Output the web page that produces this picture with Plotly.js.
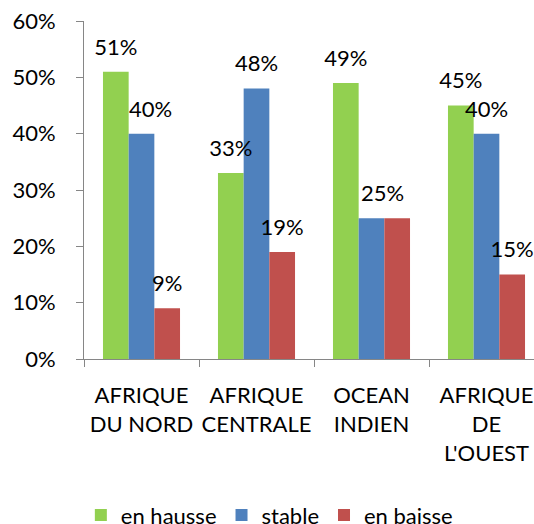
<!DOCTYPE html>
<html>
<head>
<meta charset="utf-8">
<script src="https://cdn.plot.ly/plotly-3.0.1.min.js"></script>
<style>
html,body{margin:0;padding:0;overflow:hidden;background:#fff;}
#chart{width:534px;height:524px;}
</style>
</head>
<body>
<div id="chart"></div>
<script>
// Data
var categories = ["AFRIQUE<br>DU NORD", "AFRIQUE<br>CENTRALE", "OCEAN<br>INDIEN", "AFRIQUE<br>DE<br>L'OUEST"];
var seriesNames = ["en hausse", "stable", "en baisse"];
var enHausse = [51, 33, 49, 45];
var stable = [40, 48, 25, 40];
var enBaisse = [9, 19, 25, 15];
// value labels drawn directly above their bar (false = drawn as a shifted label below, or hidden)
var inlineHausse = [true, true, true, true];
var inlineStable = [false, true, false, true];
var inlineBaisse = [true, true, false, true];
// shifted labels, as in the reference: [series index, category index, horizontal shift px]
var shiftedLabels = [[1, 0, 9], [1, 2, 11]];
var yTickVals = [0, 10, 20, 30, 40, 50, 60];
var yTickText = ["0%", "10%", "20%", "30%", "40%", "50%", "60%"];

var colors = ["#92D050", "#4F81BD", "#C0504D"];
var FONT = "Lato, Noto Sans, sans-serif";
var FS = 22;

var seriesVals = [enHausse, stable, enBaisse];
var seriesInline = [inlineHausse, inlineStable, inlineBaisse];

var data = [];
seriesVals.forEach(function(vals, i){
  data.push({
    type: "bar",
    name: seriesNames[i],
    x: categories,
    y: vals,
    marker: {color: colors[i]},
    hoverinfo: "skip"
  });
});
seriesVals.forEach(function(vals, i){
  data.push({
    type: "scatter",
    mode: "markers+text",
    x: categories,
    y: vals,
    text: vals.map(function(v, j){ return seriesInline[i][j] ? v + "%" : ""; }),
    textposition: "top center",
    textfont: {family: FONT, size: FS, color: "#000"},
    marker: {size: 17, opacity: 0, color: colors[i]},
    showlegend: false,
    hoverinfo: "skip",
    cliponaxis: false
  });
});

var annotations = shiftedLabels.map(function(s){
  var v = seriesVals[s[0]][s[1]];
  return {
    x: categories[s[1]], y: v, xref: "x", yref: "y",
    text: v + "%", showarrow: false,
    xanchor: "center", yanchor: "bottom",
    xshift: s[2], yshift: 10,
    font: {family: FONT, size: FS, color: "#000"}
  };
});

var plotW = 534 - 84;
var catW = 115;

var layout = {
  width: 534,
  height: 524,
  margin: {l: 84, r: 0, t: 21.4, b: 164.8, autoexpand: false},
  paper_bgcolor: "#fff",
  plot_bgcolor: "#fff",
  font: {family: FONT, size: FS, color: "#000"},
  barmode: "group",
  bargap: 0.33,
  bargroupgap: 0,
  scattermode: "group",
  scattergap: 0.33,
  showlegend: true,
  annotations: annotations,
  legend: {
    orientation: "h",
    x: -0.007, xanchor: "left",
    y: -0.40, yanchor: "top",
    font: {family: FONT, size: FS, color: "#000"},
    traceorder: "normal"
  },
  xaxis: {
    type: "category",
    range: [-0.5, -0.5 + plotW / catW],
    showline: true,
    linecolor: "#868686",
    linewidth: 1,
    ticks: "outside",
    tickson: "boundaries",
    ticklen: 7,
    tickcolor: "#868686",
    tickangle: 0,
    showgrid: false,
    zeroline: false,
    tickfont: {family: FONT, size: FS, color: "#000"},
    ticklabelstandoff: 17,
    fixedrange: true
  },
  yaxis: {
    range: [0, 60],
    tickmode: "array",
    tickvals: yTickVals,
    ticktext: yTickText,
    showline: true,
    linecolor: "#868686",
    linewidth: 1,
    ticks: "outside",
    ticklen: 7,
    tickcolor: "#868686",
    showgrid: false,
    zeroline: false,
    tickfont: {family: FONT, size: FS, color: "#000"},
    ticklabelstandoff: 16,
    fixedrange: true
  }
};

Plotly.newPlot("chart", data, layout, {staticPlot: true, displayModeBar: false});
</script>
</body>
</html>
